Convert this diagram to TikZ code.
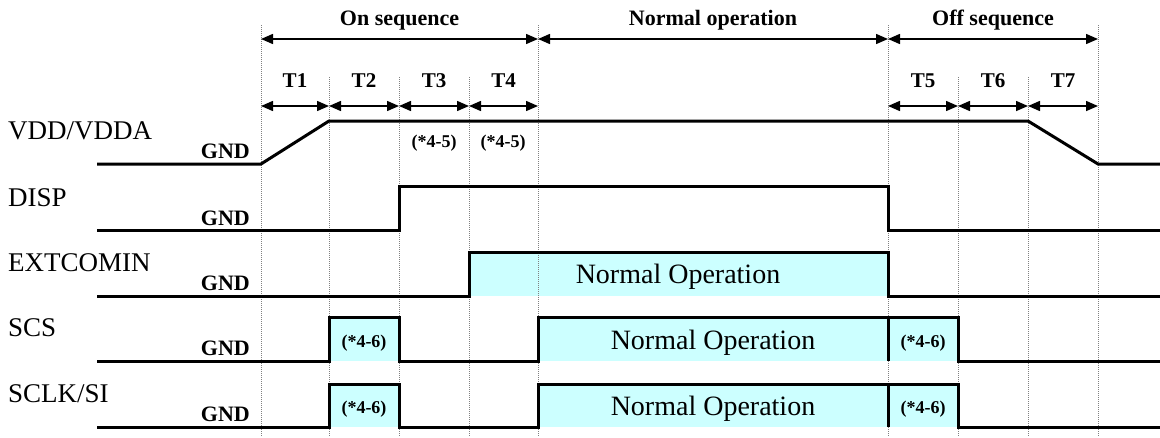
\documentclass[tikz,border=0pt]{standalone}
\usepackage{fontspec}
\setmainfont{Liberation Serif}
\usepackage{tikz}
\usetikzlibrary{arrows.meta}
\definecolor{opfill}{HTML}{CCFFFF}
\tikzstyle{sig} = [line width=3pt, line join=miter]
\tikzstyle{opbox} = [fill=opfill]
\tikzstyle{span} = [line width=1.5pt, {Triangle[length=12pt,width=10pt]}-{Triangle[length=12pt,width=10pt]}]
\tikzstyle{gridline} = [gray, line width=1pt, dash pattern=on 1pt off 1pt]
\tikzstyle{signame} = [anchor=base west, inner sep=0pt, font=\fontsize{27}{30}\selectfont]
\tikzstyle{gndlbl} = [anchor=base east, inner sep=0pt, font=\bfseries\fontsize{22}{26}\selectfont]
\tikzstyle{seqlbl} = [anchor=base, yshift=14pt, inner sep=0pt, font=\bfseries\fontsize{22}{26}\selectfont]
\tikzstyle{tlbl} = [anchor=base, yshift=19pt, inner sep=0pt, font=\bfseries\fontsize{21}{24}\selectfont]
\tikzstyle{note} = [anchor=base, inner sep=0pt, font=\bfseries\fontsize{18}{21}\selectfont]
\tikzstyle{optext} = [anchor=base, inner sep=0pt, font=\fontsize{28}{32}\selectfont]

\begin{document}
\begin{tikzpicture}[x=1pt, y=-1pt]
        \useasboundingbox (0,0) rectangle (1160,437);
        \foreach \n/\x in {0/261,1/329,2/399,3/469,4/538,5/888,6/958,7/1028,8/1098} {
          \coordinate (s\n) at (\x,39);
          \coordinate (t\n) at (\x,106);
        }
        % boxes (fill only, grid shows through)
        \fill[opbox] (469,252) rectangle (888,296);
        \fill[opbox] (329,317) rectangle (399,361);
        \fill[opbox] (538,317) rectangle (958,361);
        \fill[opbox] (329,384) rectangle (399,427);
        \fill[opbox] (538,384) rectangle (958,427);
        \foreach \x/\y in {261/25,329/77,399/77,469/77,538/25,888/25,958/77,1028/77,1098/25}
          \draw[gridline] (\x,\y) -- (\x,437);
        % time spans
        \draw[span] (s0) -- node[seqlbl] (onseq) {On sequence} (s4);
        \draw[span] (s4) -- node[seqlbl] (normop) {Normal operation} (s5);
        \draw[span] (s5) -- node[seqlbl] (offseq) {Off sequence} (s8);
        \foreach \a/\b/\l in {0/1/T1,1/2/T2,2/3/T3,3/4/T4,5/6/T5,6/7/T6,7/8/T7}
          \draw[span] (t\a) -- node[tlbl] (\l) {\l} (t\b);
        % signals
        \draw[sig] (97,164) -- (261,164) -- (329,121) -- (1028,121) -- (1098,164) -- (1160,164);
        \draw[sig] (97,230) -- (399,230) -- (399,186) -- (888,186) -- (888,230) -- (1160,230);
        \draw[sig] (97,296) -- (469,296) -- (469,252) -- (888,252) -- (888,296) -- (1160,296);
        \draw[sig] (97,361) -- (329,361) -- (329,317) -- (399,317) -- (399,361) -- (538,361)
          -- (538,317) -- (958,317) -- (958,361) -- (1160,361);
        \draw[sig] (888,317) -- (888,361);
        \draw[sig] (97,427) -- (329,427) -- (329,384) -- (399,384) -- (399,427) -- (538,427)
          -- (538,384) -- (958,384) -- (958,427) -- (1160,427);
        \draw[sig] (888,384) -- (888,427);
        % labels
        \node[signame] (vdd) at (8,139) {VDD/VDDA};
        \node[signame] (disp) at (8,206) {DISP};
        \node[signame] (extcomin) at (8,271) {EXTCOMIN};
        \node[signame] (scs) at (8,336) {SCS};
        \node[signame] (sclk) at (8,402) {SCLK/SI};
        \node[gndlbl] (gvdd) at (250,158) {GND};
        \node[gndlbl] (gdisp) at (250,225) {GND};
        \node[gndlbl] (gext) at (250,290) {GND};
        \node[gndlbl] (gscs) at (250,355) {GND};
        \node[gndlbl] (gsclk) at (250,421) {GND};
        \node[note] (nt3) at (434,147) {(*4-5)};
        \node[note] (nt4) at (503,147) {(*4-5)};
        \node[note] (nscsa) at (364,347) {(*4-6)};
        \node[note] (nscsb) at (923,347) {(*4-6)};
        \node[note] (nsclka) at (364,413) {(*4-6)};
        \node[note] (nsclkb) at (923,413) {(*4-6)};
        \node[optext] (opext) at (678,283) {Normal Operation};
        \node[optext] (opscs) at (713,349) {Normal Operation};
        \node[optext] (opsclk) at (713,415) {Normal Operation};
      \end{tikzpicture}
\end{document}
